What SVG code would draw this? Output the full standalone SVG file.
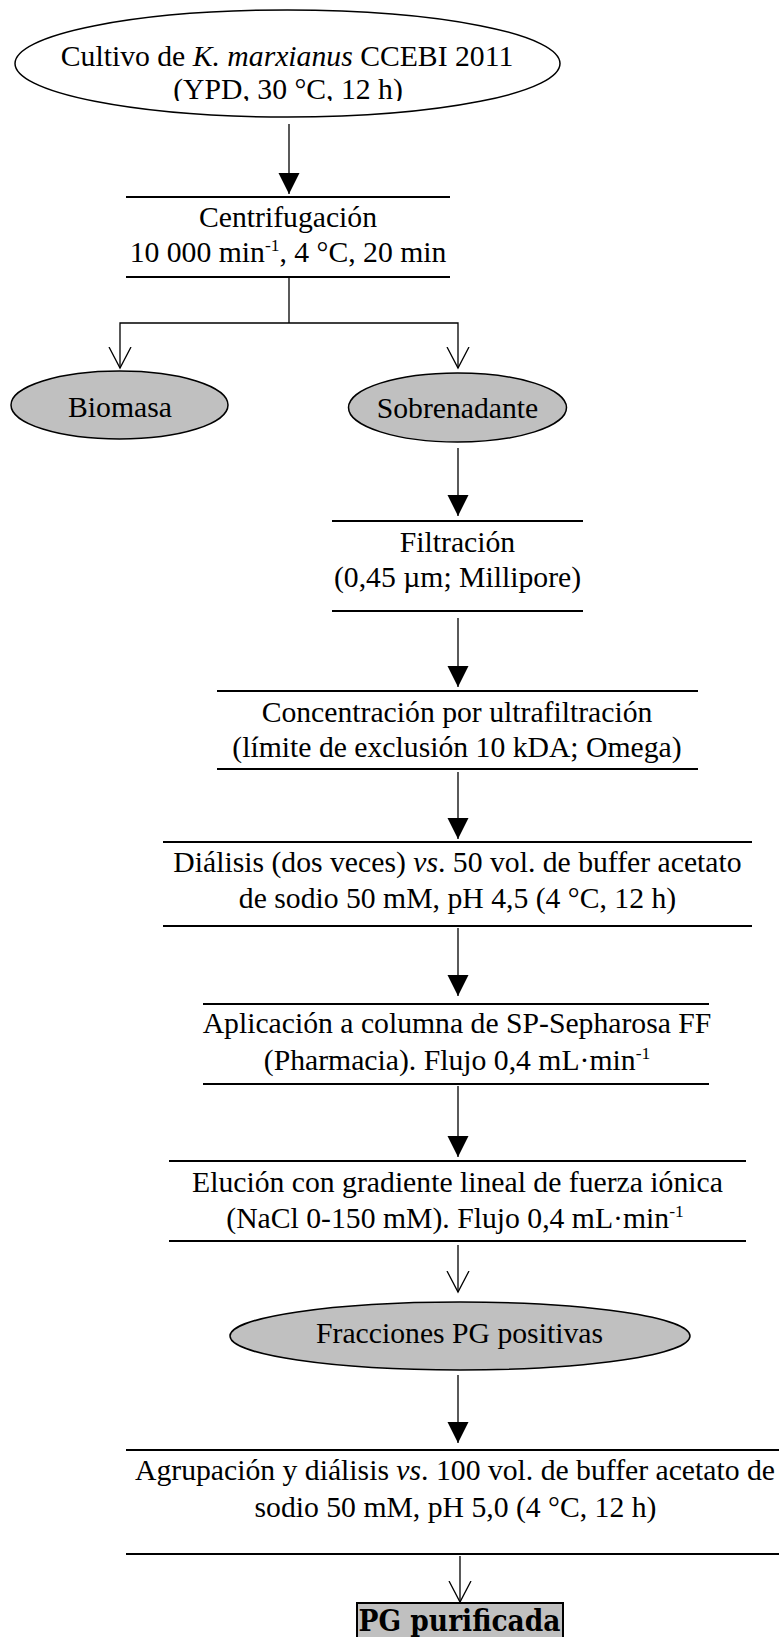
<svg xmlns="http://www.w3.org/2000/svg" width="779" height="1637" viewBox="0 0 779 1637">
<style>
text{font-family:"Liberation Serif","Times New Roman",serif;font-size:29.7px;fill:#000;text-anchor:middle}
.sup{font-size:17.5px}
.it{font-style:italic}
.rule{stroke:#000;stroke-width:2.2;fill:none}
.conn{stroke:#000;stroke-width:1.3;fill:none}
.gray{fill:#c0c0c0;stroke:#000;stroke-width:1.5}
.box{fill:#c0c0c0;stroke:#000;stroke-width:2}
.white{fill:#fff;stroke:#000;stroke-width:1.5}
.bold{font-family:"DejaVu Serif",serif;font-weight:bold;font-size:29px}
</style>
<defs>
<marker id="fa" markerUnits="userSpaceOnUse" markerWidth="22" markerHeight="22" refX="21" refY="10.5" orient="auto">
<path d="M0,0 L21,10.5 L0,21 z" fill="#000"/>
</marker>
<marker id="oa" markerUnits="userSpaceOnUse" markerWidth="24" markerHeight="24" refX="21.5" refY="12" orient="auto">
<path d="M0.5,1 L21.5,12 L0.5,23" fill="none" stroke="#000" stroke-width="1.3"/>
</marker>
<clipPath id="c1"><rect x="0" y="0" width="779" height="101"/></clipPath>
<clipPath id="c2"><rect x="0" y="0" width="779" height="417"/></clipPath>
</defs>
<rect width="779" height="1637" fill="#fff"/>
<g id="connectors">
<path class="conn" d="M289,124 V194" marker-end="url(#fa)"/>
<path class="conn" d="M289,277 V323"/>
<path class="conn" d="M289,323 H120 V368" marker-end="url(#oa)"/>
<path class="conn" d="M289,323 H458 V368" marker-end="url(#oa)"/>
<path class="conn" d="M458,448 V516" marker-end="url(#fa)"/>
<path class="conn" d="M458,618 V687" marker-end="url(#fa)"/>
<path class="conn" d="M458,772 V839" marker-end="url(#fa)"/>
<path class="conn" d="M458,928 V996" marker-end="url(#fa)"/>
<path class="conn" d="M458,1086 V1157" marker-end="url(#fa)"/>
<path class="conn" d="M458,1245 V1292" marker-end="url(#oa)"/>
<path class="conn" d="M458,1375 V1443" marker-end="url(#fa)"/>
<path class="conn" d="M460,1556 V1602" marker-end="url(#oa)"/>
</g>
<g id="n1">
<ellipse class="white" cx="287.5" cy="63.5" rx="272.5" ry="53.5"/>
<g clip-path="url(#c1)">
<text x="287" y="65.5">Cultivo de <tspan class="it">K. marxianus</tspan> CCEBI 2011</text>
<text x="288" y="99">(YPD, 30 °C, 12 h)</text>
</g>
</g>
<g id="n2">
<path class="rule" d="M126,197 H450 M126,277 H450"/>
<text x="288" y="227">Centrifugación</text>
<text x="288" y="262">10 000 min<tspan class="sup" dy="-11">-1</tspan><tspan dy="11">, 4 °C, 20 min</tspan></text>
</g>
<g id="n3">
<ellipse class="gray" cx="119.5" cy="405" rx="108.5" ry="34"/>
<text x="120" y="417" clip-path="url(#c2)">Biomasa</text>
</g>
<g id="n4">
<ellipse class="gray" cx="457.5" cy="407.5" rx="109" ry="34.5"/>
<text x="457.5" y="418">Sobrenadante</text>
</g>
<g id="n5">
<path class="rule" d="M332,521 H583 M332,611 H583"/>
<text x="457.5" y="551.5">Filtración</text>
<text x="457.5" y="587">(0,45 µm; Millipore)</text>
</g>
<g id="n6">
<path class="rule" d="M217,691 H698 M217,769 H698"/>
<text x="457" y="722">Concentración por ultrafiltración</text>
<text x="457" y="757">(límite de exclusión 10 kDA; Omega)</text>
</g>
<g id="n7">
<path class="rule" d="M163,842 H752 M163,926 H752"/>
<text x="457.5" y="872">Diálisis (dos veces) <tspan class="it">vs</tspan>. 50 vol. de buffer acetato</text>
<text x="457.5" y="908">de sodio 50 mM, pH 4,5 (4 °C, 12 h)</text>
</g>
<g id="n8">
<path class="rule" d="M203,1004 H709 M203,1084 H709"/>
<text x="457" y="1033">Aplicación a columna de SP-Sepharosa FF</text>
<text x="457" y="1070">(Pharmacia). Flujo 0,4 mL·min<tspan class="sup" dy="-11">-1</tspan></text>
</g>
<g id="n9">
<path class="rule" d="M169,1161 H746 M169,1241 H746"/>
<text x="457.5" y="1192">Elución con gradiente lineal de fuerza iónica</text>
<text x="455" y="1228">(NaCl 0-150 mM). Flujo 0,4 mL·min<tspan class="sup" dy="-11">-1</tspan></text>
</g>
<g id="n10">
<ellipse class="gray" cx="460" cy="1336" rx="230" ry="34"/>
<text x="459.5" y="1343">Fracciones PG positivas</text>
</g>
<g id="n11">
<path class="rule" d="M126,1450 H779 M126,1554 H779"/>
<text x="455" y="1480">Agrupación y diálisis <tspan class="it">vs</tspan>. 100 vol. de buffer acetato de</text>
<text x="455.5" y="1517">sodio 50 mM, pH 5,0 (4 °C, 12 h)</text>
</g>
<g id="n12">
<rect class="box" x="357" y="1603" width="206" height="45"/>
<text class="bold" x="459.5" y="1631" textLength="202" lengthAdjust="spacingAndGlyphs">PG purificada</text>
</g>
</svg>
